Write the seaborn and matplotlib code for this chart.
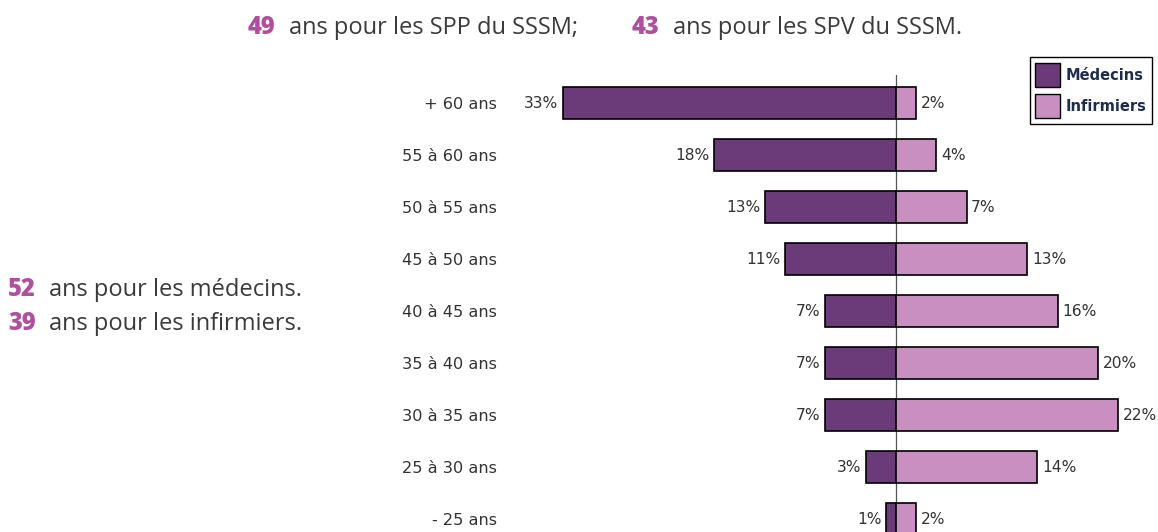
import numpy as np
import pandas as pd
import matplotlib
matplotlib.use("Agg")
import matplotlib.pyplot as plt
import seaborn as sns
from matplotlib.patches import Patch

sns.set_theme(style="white")
plt.rcParams["font.family"] = ["DejaVu Sans"]

# ---------- data ----------
tranches = ["+ 60 ans", "55 à 60 ans", "50 à 55 ans", "45 à 50 ans", "40 à 45 ans",
            "35 à 40 ans", "30 à 35 ans", "25 à 30 ans", "- 25 ans"]
medecins = [33, 18, 13, 11, 7, 7, 7, 3, 1]
infirmiers = [2, 4, 7, 13, 16, 20, 22, 14, 2]

age_spp, age_spv = "49", "43"
age_med, age_inf = "52", "39"

DARK = "#6b3a78"
LIGHT = "#c88fc0"
ACCENT = "#b04fa0"
TXT = "#333333"

df = pd.DataFrame({"tranche": tranches,
                   "med": [-v for v in medecins],
                   "inf": infirmiers})

# ---------- figure ----------
W, H = 1158, 532
fig = plt.figure(figsize=(W / 100, H / 100), dpi=100)
x0_px, top_px = 540, 75
ax = fig.add_axes([x0_px / W, 0, (W - x0_px) / W, (H - top_px) / H])

bw = 0.62
sns.barplot(data=df, x="med", y="tranche", orient="h", color=DARK, saturation=1,
            edgecolor="black", linewidth=1.2, width=bw, ax=ax)
sns.barplot(data=df, x="inf", y="tranche", orient="h", color=LIGHT, saturation=1,
            edgecolor="black", linewidth=1.2, width=bw, ax=ax)

px_per = 10.1
ax.set_xlim(-(896 - x0_px) / px_per, (W - 896) / px_per)
ax.set_ylim((H - 103) / 52, -(103 - top_px) / 52)
ax.axvline(0, color="#555555", lw=0.9, zorder=0.5)

for i, (m, n) in enumerate(zip(medecins, infirmiers)):
    ax.text(-m - 0.45, i, f"{m}%", ha="right", va="center", fontsize=11.2, color=TXT, clip_on=False)
    ax.text(n + 0.45, i, f"{n}%", ha="left", va="center", fontsize=11.2, color=TXT, clip_on=False)

ax.set_xlabel("")
ax.set_ylabel("")
ax.set_xticks([])
ax.tick_params(axis="y", length=0, pad=31, labelsize=11.6, labelcolor=TXT)
sns.despine(ax=ax, left=True, bottom=True)

# legend
handles = [Patch(facecolor=DARK, edgecolor="black", label="Médecins"),
           Patch(facecolor=LIGHT, edgecolor="black", label="Infirmiers")]
leg = fig.legend(handles=handles, loc="upper right", bbox_to_anchor=(1152 / W, 1 - 57 / H),
                 frameon=True, fancybox=False, framealpha=1, borderaxespad=0,
                 handlelength=1.7, handleheight=2.2, handletextpad=0.35, borderpad=0.4,
                 labelspacing=0.45, prop={"weight": "bold", "size": 10.5})
leg.get_frame().set_edgecolor("black")
leg.get_frame().set_linewidth(1.0)
for t in leg.get_texts():
    t.set_color("#1f2d4d")

# annotations
def note(xpx, ypx, num, rest, size=17):
    fam = ["Open Sans", "DejaVu Sans"]
    fig.text(xpx / W, 1 - ypx / H, num, fontsize=size, fontweight="heavy", color=ACCENT,
             va="center", ha="left", family=fam)
    fig.text((xpx + 41) / W, 1 - ypx / H, rest, fontsize=size, color="#3a3a3a",
             va="center", ha="left", family=fam)

note(248, 28, age_spp, "ans pour les SPP du SSSM;")
note(632, 28, age_spv, "ans pour les SPV du SSSM.")
note(8, 290, age_med, "ans pour les médecins.")
note(8, 324, age_inf, "ans pour les infirmiers.")

fig.savefig("out.png", dpi=100)
